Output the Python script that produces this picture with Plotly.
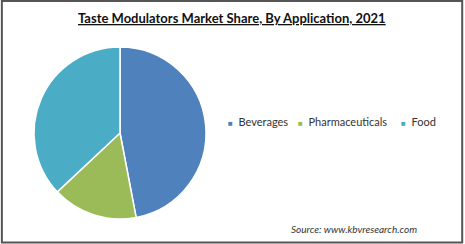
import plotly.graph_objects as go

categories = ["Beverages", "Pharmaceuticals", "Food"]
shares = [47, 16, 37]
colors = ["#4F81BD", "#9BBB59", "#4BACC6"]

title_text = "<b><u>Taste Modulators Market Share, By Application, 2021</u></b>"
source_text = "<i>Source: www.kbvresearch.com</i>"

FONT = "Lato, Carlito, sans-serif"

fig = go.Figure()
fig.add_trace(go.Pie(
    labels=categories,
    values=shares,
    sort=False,
    direction="clockwise",
    rotation=0,
    textinfo="none",
    hoverinfo="label+percent",
    marker=dict(colors=colors, line=dict(color="white", width=1.5)),
    domain=dict(x=[33/465, 207/465], y=[25/244, 197/244]),
))

# legend entries (pixel x of each entry's marker)
legend_x = [226, 296, 399]
annotations = [
    dict(text=title_text, x=232/465, y=(244-18)/244, xref="paper", yref="paper",
         xanchor="center", yanchor="middle", showarrow=False,
         font=dict(size=13, color="#111111", family=FONT)),
    dict(text=source_text, x=354/465, y=(244-229)/244, xref="paper", yref="paper",
         xanchor="center", yanchor="middle", showarrow=False,
         font=dict(size=10, color="#333333", family=FONT)),
]
for name, col, lx in zip(categories, colors, legend_x):
    annotations.append(dict(
        text=f'<span style="color:{col};font-size:8px">■</span>  {name}',
        x=lx/465, y=(244-121.5)/244, xref="paper", yref="paper",
        xanchor="left", yanchor="middle", showarrow=False,
        font=dict(size=11, color="#333333", family=FONT),
    ))

fig.update_layout(
    width=465, height=244,
    margin=dict(l=0, r=0, t=0, b=0),
    paper_bgcolor="white",
    plot_bgcolor="white",
    font=dict(family=FONT, color="#333333"),
    showlegend=False,
    annotations=annotations,
    shapes=[
        dict(type="rect", xref="paper", yref="paper", x0=0.004, x1=0.994, y0=0.006, y1=0.996,
             line=dict(color="#555555", width=2), fillcolor="rgba(0,0,0,0)"),
    ],
)

fig.write_html("out.html")
